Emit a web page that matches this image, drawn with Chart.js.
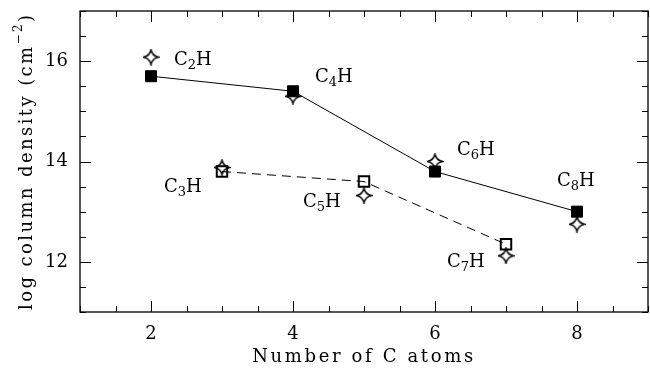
<!DOCTYPE html>
<html>
<head>
<meta charset="utf-8">
<script src="https://cdn.jsdelivr.net/npm/chart.js@4/dist/chart.umd.min.js"></script>
<style>
html, body { margin: 0; padding: 0; background: #fff; }
#wrap { width: 650px; height: 371px; }
</style>
</head>
<body>
<div id="wrap"><canvas id="chart"></canvas></div>
<script>
// data
const evenAtoms = [2, 4, 6, 8];
const evenDensity = [15.7, 15.4, 13.8, 13.0];
const oddAtoms = [3, 5, 7];
const oddDensity = [13.8, 13.6, 12.35];
const obsAtoms = [2, 3, 4, 5, 6, 7, 8];
const obsDensity = [16.08, 13.88, 15.3, 13.32, 14.0, 12.12, 12.75];
const molAtoms = [2, 3, 4, 5, 6, 7, 8];
const xTicks = [2, 4, 6, 8];
const yTicks = [12, 14, 16];

const FONT = '"DejaVu Serif", "Liberation Serif", serif';

// label offsets (px) from each molecule's model point
const labelOffset = {
  2: [23, -16], 3: [-58, 16], 4: [22, -14], 5: [-61, 21],
  6: [22, -21], 7: [-59, 18], 8: [-20, -30]
};

function makeStar(size) {
  const c = document.createElement('canvas');
  c.width = c.height = size;
  const g = c.getContext('2d');
  const m = size / 2, r = size / 2 - 1, k = r * 0.16;
  g.beginPath();
  g.moveTo(m, m - r);
  g.quadraticCurveTo(m + k, m - k, m + r, m);
  g.quadraticCurveTo(m + k, m + k, m, m + r);
  g.quadraticCurveTo(m - k, m + k, m - r, m);
  g.quadraticCurveTo(m - k, m - k, m, m - r);
  g.closePath();
  g.fillStyle = '#fff';
  g.fill();
  g.lineWidth = 1.4;
  g.strokeStyle = '#000';
  g.stroke();
  return c;
}
const star = makeStar(17);

function modelValue(n) {
  let i = evenAtoms.indexOf(n);
  if (i >= 0) return evenDensity[i];
  return oddDensity[oddAtoms.indexOf(n)];
}

function line(ctx, x1, y1, x2, y2) {
  ctx.beginPath();
  ctx.moveTo(x1, y1);
  ctx.lineTo(x2, y2);
  ctx.stroke();
}

const frame = {
  id: 'frame',
  afterDraw(chart) {
    const { ctx, chartArea: a, scales: { x, y } } = chart;
    ctx.save();
    ctx.strokeStyle = '#000';
    ctx.lineWidth = 1.3;
    ctx.strokeRect(a.left, a.top, a.right - a.left, a.bottom - a.top);
    ctx.lineWidth = 1;
    for (let v = 1; v <= 9; v += 0.5) {
      const px = Math.round(x.getPixelForValue(v)) + 0.5;
      const len = v % 2 === 0 ? 11 : 6;
      line(ctx, px, a.bottom, px, a.bottom - len);
      line(ctx, px, a.top, px, a.top + len);
    }
    for (let v = 11; v <= 17; v += 0.5) {
      const py = Math.round(y.getPixelForValue(v)) + 0.5;
      const len = v % 2 === 0 ? 11 : 6;
      line(ctx, a.left, py, a.left + len, py);
      line(ctx, a.right, py, a.right - len, py);
    }

    // molecule labels C_nH
    ctx.fillStyle = '#000';
    ctx.textBaseline = 'middle';
    ctx.textAlign = 'left';
    molAtoms.forEach(n => {
      const off = labelOffset[n];
      let lx = x.getPixelForValue(n) + off[0];
      const ly = y.getPixelForValue(modelValue(n)) + off[1];
      ctx.font = '18px ' + FONT;
      ctx.fillText('C', lx, ly);
      lx += ctx.measureText('C').width;
      ctx.font = '13px ' + FONT;
      ctx.fillText(String(n), lx, ly + 5);
      lx += ctx.measureText(String(n)).width;
      ctx.font = '18px ' + FONT;
      ctx.fillText('H', lx, ly);
    });

    // x title
    ctx.font = '18px ' + FONT;
    const xt = 'Number of C atoms';
    ctx.letterSpacing = '0px';
    const w0 = ctx.measureText(xt).width;
    ctx.letterSpacing = ((221 - w0) / (xt.length - 1)).toFixed(2) + 'px';
    ctx.textAlign = 'center';
    ctx.fillText(xt, (a.left + a.right) / 2, 357);

    // y title, rotated
    ctx.translate(27, (a.top + a.bottom) / 2 + 1);
    ctx.rotate(-Math.PI / 2);
    const parts = [['log column density (cm', 18, 0], ['\u22122', 12, -8], [')', 18, 0]];
    ctx.letterSpacing = '0px';
    let tot = 0, chars = 0;
    parts.forEach(p => { ctx.font = p[1] + 'px ' + FONT; tot += ctx.measureText(p[0]).width; chars += p[0].length; });
    const ls = (295 - tot) / (chars - 1);
    ctx.letterSpacing = ls.toFixed(2) + 'px';
    ctx.textAlign = 'left';
    let cx = -295 / 2;
    parts.forEach(p => {
      ctx.font = p[1] + 'px ' + FONT;
      ctx.fillText(p[0], cx, p[2]);
      cx += ctx.measureText(p[0]).width;
    });
    ctx.restore();
  }
};

new Chart(document.getElementById('chart'), {
  type: 'scatter',
  data: {
    datasets: [
      {
        data: obsAtoms.map((n, i) => ({ x: n, y: obsDensity[i] })),
        pointStyle: star,
        showLine: false,
        order: 3
      },
      {
        data: evenAtoms.map((n, i) => ({ x: n, y: evenDensity[i] })),
        showLine: true,
        borderColor: '#000',
        borderWidth: 1,
        backgroundColor: '#000',
        pointStyle: 'rect',
        pointRadius: 7.8,
        pointBorderWidth: 1,
        order: 1
      },
      {
        data: oddAtoms.map((n, i) => ({ x: n, y: oddDensity[i] })),
        showLine: true,
        borderColor: '#000',
        borderWidth: 1,
        borderDash: [9, 6],
        backgroundColor: 'rgba(0,0,0,0)',
        pointStyle: 'rect',
        pointRadius: 7.4,
        pointBorderWidth: 2,
        order: 2
      }
    ]
  },
  options: {
    animation: false,
    responsive: true,
    maintainAspectRatio: false,
    layout: { autoPadding: false, padding: { top: 11, right: 2, left: 0, bottom: 0 } },
    plugins: { legend: { display: false }, tooltip: { enabled: false } },
    scales: {
      x: {
        type: 'linear',
        min: 1, max: 9,
        afterBuildTicks: s => { s.ticks = xTicks.map(v => ({ value: v })); },
        afterFit: s => { s.height = 59; s.paddingLeft = 0; s.paddingRight = 0; },
        grid: { display: false, drawTicks: false },
        border: { display: false },
        ticks: { color: '#000', font: { family: FONT, size: 18 }, padding: 12 }
      },
      y: {
        type: 'linear',
        min: 11, max: 17,
        afterBuildTicks: s => { s.ticks = yTicks.map(v => ({ value: v })); },
        afterFit: s => { s.width = 80; s.paddingTop = 0; s.paddingBottom = 0; },
        grid: { display: false, drawTicks: false },
        border: { display: false },
        ticks: { color: '#000', font: { family: FONT, size: 18 }, padding: 12 }
      }
    }
  },
  plugins: [frame]
});
</script>
</body>
</html>
